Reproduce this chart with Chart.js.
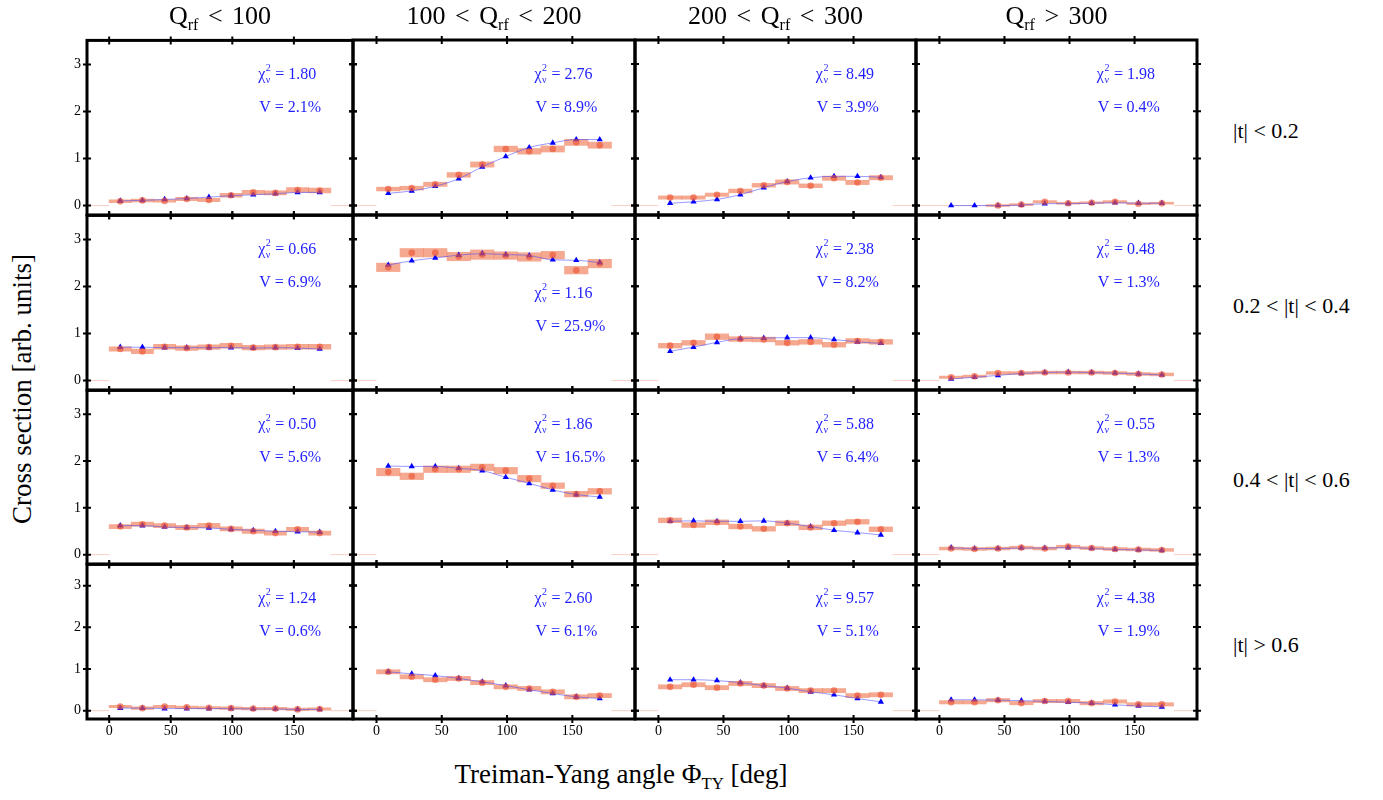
<!DOCTYPE html>
<html lang="en">
<head>
<meta charset="UTF-8">
<title>Treiman-Yang angle distributions</title>
<script src="https://cdn.jsdelivr.net/npm/chart.js"></script>
<style>
    body { margin: 0; background: #fff; }
    #page { position: relative; width: 1383px; height: 800px; font-family: "Liberation Serif", "Times New Roman", serif; color: #000; }
    .panel { position: absolute; }
    .lbl { position: absolute; white-space: nowrap; line-height: 1; }
    .lbl sub { font-size: 0.62em; vertical-align: -0.35em; line-height: 0; }
</style>
</head>
<body>
<div id="page"></div>
<script>
// Phi_TY bin centres [deg], 18 deg wide bins
const phiBins = [9, 27, 45, 63, 81, 99, 117, 135, 153, 171];
const xTicks = [0, 50, 100, 150];
const yTicks = [0, 1, 2, 3];

const qLabels = ['Q<sub>rf</sub> &lt; 100', '100 &lt; Q<sub>rf</sub> &lt; 200', '200 &lt; Q<sub>rf</sub> &lt; 300', 'Q<sub>rf</sub> &gt; 300'];
const tLabels = ['|t| &lt; 0.2', '0.2 &lt; |t| &lt; 0.4', '0.4 &lt; |t| &lt; 0.6', '|t| &gt; 0.6'];

// rows = |t| bins, columns = Q_rf bins
const chi2 = [
    [1.80, 2.76, 8.49, 1.98],
    [0.66, 1.16, 2.38, 0.48],
    [0.50, 1.86, 5.88, 0.55],
    [1.24, 2.60, 9.57, 4.38]
];
const visibility = [
    [2.1, 8.9, 3.9, 0.4],
    [6.9, 25.9, 8.2, 1.3],
    [5.6, 16.5, 6.4, 1.3],
    [0.6, 6.1, 5.1, 1.9]
];

// measured cross section (circles + boxes)
const measured = [
    [[0.09, 0.11, 0.10, 0.14, 0.12, 0.22, 0.28, 0.27, 0.33, 0.32],
     [0.35, 0.37, 0.45, 0.65, 0.87, 1.20, 1.15, 1.20, 1.34, 1.28],
     [0.17, 0.17, 0.23, 0.31, 0.43, 0.50, 0.42, 0.58, 0.49, 0.59],
     [null, null, 0.00, 0.02, 0.08, 0.05, 0.06, 0.08, 0.04, 0.05]],
    [[0.67, 0.62, 0.72, 0.69, 0.71, 0.74, 0.70, 0.71, 0.72, 0.72],
     [2.40, 2.71, 2.71, 2.63, 2.67, 2.65, 2.62, 2.66, 2.34, 2.48],
     [0.74, 0.80, 0.93, 0.88, 0.87, 0.80, 0.82, 0.76, 0.84, 0.82],
     [0.07, 0.09, 0.16, 0.16, 0.17, 0.17, 0.17, 0.16, 0.14, 0.13]],
    [[0.60, 0.65, 0.62, 0.58, 0.62, 0.55, 0.50, 0.46, 0.54, 0.46],
     [1.76, 1.67, 1.82, 1.82, 1.86, 1.79, 1.62, 1.47, 1.29, 1.35],
     [0.73, 0.63, 0.69, 0.60, 0.55, 0.67, 0.58, 0.67, 0.70, 0.54],
     [0.13, 0.12, 0.13, 0.15, 0.13, 0.17, 0.14, 0.12, 0.11, 0.10]],
    [[0.10, 0.06, 0.10, 0.08, 0.07, 0.06, 0.05, 0.05, 0.03, 0.04],
     [0.93, 0.81, 0.74, 0.77, 0.67, 0.57, 0.53, 0.45, 0.33, 0.36],
     [0.57, 0.62, 0.55, 0.65, 0.60, 0.53, 0.48, 0.48, 0.36, 0.38],
     [0.20, 0.20, 0.25, 0.18, 0.23, 0.23, 0.18, 0.22, 0.15, 0.15]]
];

// half height of the uncertainty boxes
const errors = [
    [[0.03, 0.03, 0.03, 0.035, 0.035, 0.04, 0.045, 0.045, 0.05, 0.05],
     [0.04, 0.04, 0.045, 0.05, 0.055, 0.06, 0.06, 0.065, 0.065, 0.065],
     [0.035, 0.035, 0.035, 0.04, 0.04, 0.045, 0.04, 0.045, 0.045, 0.045],
     [0, 0, 0.02, 0.02, 0.025, 0.02, 0.02, 0.025, 0.02, 0.02]],
    [[0.045, 0.05, 0.05, 0.05, 0.05, 0.05, 0.05, 0.05, 0.05, 0.05],
     [0.09, 0.09, 0.09, 0.09, 0.1, 0.08, 0.09, 0.08, 0.08, 0.09],
     [0.05, 0.05, 0.06, 0.05, 0.05, 0.05, 0.05, 0.05, 0.05, 0.05],
     [0.025, 0.025, 0.03, 0.03, 0.03, 0.03, 0.03, 0.03, 0.03, 0.03]],
    [[0.045, 0.045, 0.045, 0.045, 0.05, 0.045, 0.045, 0.045, 0.045, 0.045],
     [0.08, 0.07, 0.07, 0.07, 0.07, 0.07, 0.07, 0.06, 0.06, 0.06],
     [0.05, 0.05, 0.05, 0.05, 0.05, 0.05, 0.05, 0.05, 0.05, 0.05],
     [0.03, 0.03, 0.03, 0.03, 0.03, 0.03, 0.03, 0.03, 0.03, 0.03]],
    [[0.03, 0.03, 0.03, 0.03, 0.03, 0.03, 0.03, 0.03, 0.03, 0.03],
     [0.05, 0.05, 0.05, 0.05, 0.05, 0.05, 0.05, 0.05, 0.05, 0.05],
     [0.05, 0.05, 0.05, 0.05, 0.05, 0.05, 0.05, 0.05, 0.05, 0.05],
     [0.04, 0.04, 0.04, 0.04, 0.04, 0.04, 0.04, 0.04, 0.04, 0.04]]
];

// model (triangles + line)
const model = [
    [[0.10, 0.11, 0.13, 0.15, 0.18, 0.21, 0.23, 0.25, 0.28, 0.28],
     [0.26, 0.31, 0.41, 0.57, 0.82, 1.04, 1.23, 1.33, 1.40, 1.40],
     [0.05, 0.08, 0.13, 0.23, 0.38, 0.51, 0.59, 0.62, 0.62, 0.60],
     [0.00, 0.00, 0.00, 0.01, 0.04, 0.04, 0.05, 0.06, 0.05, 0.05]],
    [[0.71, 0.71, 0.70, 0.70, 0.70, 0.70, 0.69, 0.70, 0.69, 0.67],
     [2.45, 2.54, 2.60, 2.66, 2.69, 2.67, 2.65, 2.56, 2.55, 2.50],
     [0.62, 0.71, 0.81, 0.89, 0.90, 0.91, 0.91, 0.87, 0.82, 0.79],
     [0.035, 0.07, 0.11, 0.15, 0.17, 0.18, 0.17, 0.16, 0.14, 0.12]],
    [[0.62, 0.62, 0.59, 0.58, 0.57, 0.54, 0.52, 0.50, 0.49, 0.48],
     [1.89, 1.88, 1.88, 1.84, 1.79, 1.65, 1.52, 1.38, 1.28, 1.23],
     [0.71, 0.72, 0.71, 0.71, 0.72, 0.67, 0.60, 0.52, 0.47, 0.42],
     [0.15, 0.13, 0.13, 0.14, 0.14, 0.15, 0.13, 0.11, 0.10, 0.09]],
    [[0.06, 0.06, 0.05, 0.05, 0.05, 0.05, 0.04, 0.04, 0.03, 0.03],
     [0.93, 0.88, 0.84, 0.77, 0.69, 0.60, 0.50, 0.41, 0.33, 0.29],
     [0.74, 0.74, 0.72, 0.67, 0.60, 0.54, 0.45, 0.38, 0.29, 0.21],
     [0.26, 0.26, 0.25, 0.24, 0.22, 0.20, 0.18, 0.14, 0.11, 0.09]]
];

// layout of the grid (panel borders in page pixels)
const colEdges = [87, 353, 635, 916, 1197];
const rowEdges = [40, 215, 390, 564, 719];
const xMin = -18, xMax = 198, yMin = -0.2, yMax = 3.51;
const binHalf = 9;
const pad = { left: 40, right: 14, top: 14, bottom: 30 };
const fontFamily = '"Liberation Serif", "Times New Roman", serif';
const annColor = '#1f1fff';

const framePlugin = {
    id: 'frame',
    afterDatasetsDraw(chart, args, opts) {
        const { ctx, chartArea: a, scales: { x, y } } = chart;
        ctx.save();
        ctx.strokeStyle = '#000';
        ctx.lineWidth = 2;
        ctx.beginPath();
        xTicks.forEach(v => {
            const px = x.getPixelForValue(v);
            ctx.moveTo(px, a.top - 4); ctx.lineTo(px, a.top + 4);
            ctx.moveTo(px, a.bottom - 4); ctx.lineTo(px, a.bottom + 4);
        });
        yTicks.forEach(v => {
            const py = y.getPixelForValue(v);
            ctx.moveTo(a.left - 4, py); ctx.lineTo(a.left + 4, py);
            ctx.moveTo(a.right - 4, py); ctx.lineTo(a.right + 4, py);
        });
        ctx.stroke();
        ctx.lineWidth = 3;
        ctx.strokeRect(a.left, a.top, a.right - a.left, a.bottom - a.top);

        // chi2 / visibility annotation
        const tx = x.getPixelForValue(121);
        const ty = a.top + 39 + opts.dy;
        ctx.fillStyle = annColor;
        ctx.textBaseline = 'alphabetic';
        ctx.font = '16px ' + fontFamily;
        ctx.fillText('\u03c7', tx, ty);
        const w = ctx.measureText('\u03c7').width;
        ctx.font = '10px ' + fontFamily;
        ctx.fillText('2', tx + w + 0.5, ty - 8);
        ctx.fillText('\u03bd', tx + w + 0.5, ty + 4);
        ctx.font = '16px ' + fontFamily;
        ctx.fillText('= ' + opts.chi.toFixed(2), tx + w + 10, ty);
        ctx.fillText('V = ' + opts.vis.toFixed(1) + '%', tx + 1, ty + 33);
        ctx.restore();
    }
};

const page = document.getElementById('page');

function makePanel(r, c) {
    const left = colEdges[c], right = colEdges[c + 1];
    const top = rowEdges[r], bottom = rowEdges[r + 1];
    const w = right - left + pad.left + pad.right;
    const h = bottom - top + pad.top + pad.bottom;

    const box = document.createElement('div');
    box.className = 'panel';
    box.style.left = (left - pad.left) + 'px';
    box.style.top = (top - pad.top) + 'px';
    const canvas = document.createElement('canvas');
    canvas.width = w;
    canvas.height = h;
    box.appendChild(canvas);
    page.appendChild(box);

    const meas = measured[r][c], err = errors[r][c], mod = model[r][c];
    const boxes = [], dots = [];
    phiBins.forEach((x, i) => {
        if (meas[i] == null) return;
        boxes.push({ x: x, y: [meas[i] - err[i], meas[i] + err[i]] });
        dots.push({ x: x, y: meas[i] });
    });
    const tri = phiBins.map((x, i) => ({ x: x, y: mod[i] }));

    // faint zero line where there is no measurement
    const gaps = [[xMin, 0]];
    phiBins.forEach((x, i) => { if (meas[i] == null) gaps.push([x - binHalf, x + binHalf]); });
    gaps.push([180, xMax]);
    const zeroLine = gaps.flatMap(([a, b]) => [{ x: a, y: 0 }, { x: b, y: 0 }, { x: b, y: null }]);

    new Chart(canvas.getContext('2d'), {
        type: 'bar',
        data: {
            datasets: [
                {
                    type: 'scatter',
                    data: dots,
                    backgroundColor: 'rgba(238, 88, 58, 0.68)',
                    borderWidth: 0,
                    pointRadius: 3.3,
                    order: 1
                },
                {
                    type: 'line',
                    data: tri,
                    borderColor: 'rgba(70, 70, 255, 0.55)',
                    borderWidth: 1,
                    cubicInterpolationMode: 'monotone',
                    pointStyle: 'triangle',
                    pointRadius: 3.6,
                    pointBackgroundColor: '#0000ff',
                    pointBorderWidth: 0,
                    order: 2
                },
                {
                    type: 'bar',
                    data: boxes,
                    backgroundColor: 'rgba(238, 112, 72, 0.6)',
                    borderWidth: 0,
                    barPercentage: 1,
                    categoryPercentage: 1,
                    order: 3
                },
                {
                    type: 'line',
                    data: zeroLine,
                    borderColor: 'rgba(245, 160, 140, 0.5)',
                    borderWidth: 1,
                    pointRadius: 0,
                    spanGaps: false,
                    order: 4
                }
            ]
        },
        options: {
            responsive: false,
            animation: false,
            events: [],
            layout: { padding: { left: 0, right: pad.right, top: pad.top, bottom: 0 } },
            scales: {
                x: {
                    type: 'linear',
                    min: xMin,
                    max: xMax,
                    offset: false,
                    grid: { display: false, drawTicks: false },
                    border: { display: false },
                    ticks: { display: r === 3, padding: 4, color: '#000', font: { family: fontFamily, size: 14 } },
                    afterBuildTicks: s => { s.ticks = xTicks.map(v => ({ value: v })); },
                    afterFit: s => { s.height = pad.bottom; }
                },
                y: {
                    type: 'linear',
                    min: yMin,
                    max: yMax,
                    grid: { display: false, drawTicks: false },
                    border: { display: false },
                    ticks: { display: c === 0, padding: 6, color: '#000', font: { family: fontFamily, size: 14 } },
                    afterBuildTicks: s => { s.ticks = yTicks.map(v => ({ value: v })); },
                    afterFit: s => { s.width = pad.left; }
                }
            },
            plugins: {
                legend: { display: false },
                tooltip: { enabled: false },
                frame: { chi: chi2[r][c], vis: visibility[r][c], dy: (r === 1 && c === 1) ? 44 : 0 }
            }
        },
        plugins: [framePlugin]
    });
}

for (let r = 0; r < 4; r++) {
    for (let c = 0; c < 4; c++) makePanel(r, c);
}

function addLabel(html, css) {
    const d = document.createElement('div');
    d.className = 'lbl';
    d.innerHTML = html;
    Object.assign(d.style, css);
    page.appendChild(d);
    return d;
}

// column headers
qLabels.forEach((t, c) => {
    const mid = (colEdges[c] + colEdges[c + 1]) / 2;
    addLabel(t, { left: mid + 'px', top: '3px', fontSize: '26px', wordSpacing: '3px', transform: 'translateX(-50%)' });
});

// row labels
tLabels.forEach((t, r) => {
    const mid = (rowEdges[r] + rowEdges[r + 1]) / 2;
    addLabel(t, { left: '1233px', top: (mid - 8) + 'px', fontSize: '22px' });
});

// axis titles
addLabel('Cross section [arb. units]', {
    left: '22px', top: '389px', fontSize: '27px',
    transform: 'translate(-50%, -50%) rotate(-90deg)'
});
addLabel('Treiman-Yang angle &Phi;<sub>TY</sub> [deg]', {
    left: '621px', top: '761px', fontSize: '27px', transform: 'translateX(-50%)'
});
</script>
</body>
</html>
